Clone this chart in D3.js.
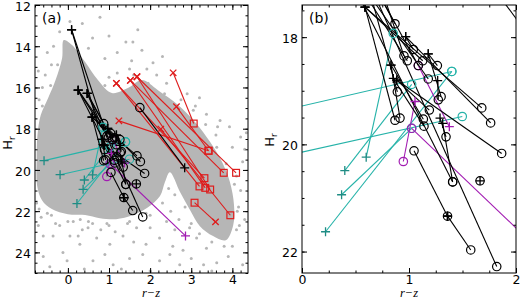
<!DOCTYPE html>
<html><head><meta charset="utf-8">
<script src="https://cdn.jsdelivr.net/npm/d3@7"></script>
<style>body{margin:0;background:#fff}svg{display:block}</style>
</head><body>
<svg id="c" width="520" height="299"></svg>
<script>
// ---- data (r-z, H_r) ----
const cloudOutline = [[-0.10,13.70],[0.10,13.94],[0.42,14.77],[0.73,15.64],[1.07,16.27],[1.46,16.03],[1.80,15.64],[2.19,16.13],[2.68,16.85],[3.09,17.68],[3.46,18.65],[3.75,19.62],[3.94,20.59],[4.04,21.71],[4.02,22.68],[3.84,23.41],[3.53,23.21],[3.21,22.73],[2.97,21.95],[2.73,21.08],[2.48,20.11],[2.36,20.59],[2.24,21.27],[1.95,21.81],[1.58,22.19],[1.17,22.39],[0.78,22.34],[0.42,22.19],[0.00,22.15],[-0.39,21.90],[-0.63,21.47],[-0.75,20.74],[-0.76,19.52],[-0.74,18.31],[-0.66,17.34],[-0.48,16.51],[-0.30,15.64],[-0.14,14.57]];
const cloudDots = [[0.78,12.6],[0.35,12.9],[1.41,13.8],[1.58,13.8],[1.0,13.5],[0.6,13.6],[1.2,14.3],[0.9,14.6],[1.55,14.7],[2.07,14.8],[1.92,15.1],[2.16,15.4],[1.8,14.2],[0.5,14.1],[-0.4,14.9],[-0.55,15.4],[-0.62,16.0],[-0.7,16.6],[-0.62,16.9],[1.2,15.3],[1.5,15.1],[1.0,15.5],[2.4,15.8],[2.3,14.5],[1.7,13.2],[-0.2,13.3],[-0.5,14.3],[-0.72,15.2],[-0.35,14.0],[0.05,12.8],[-0.42,15.9],[-0.25,14.9],
[3.64,17.9],[3.93,17.9],[4.2,18.4],[3.37,17.3],[4.34,18.2],[3.1,16.9],[2.9,16.3],[3.6,18.3],[4.0,18.9],[4.25,19.6],[4.1,20.3],[4.2,21.0],[4.15,21.8],[4.3,22.4],[4.1,22.9],[3.7,17.6],[4.3,19.0],[3.2,16.5],
[-0.6,23.2],[-0.36,23.2],[0.05,23.2],[-0.12,24.0],[-0.44,24.7],[-0.02,24.4],[0.29,23.6],[0.49,22.8],[0.7,23.3],[1.02,23.6],[1.34,23.2],[1.67,22.8],[1.1,24.6],[1.5,24.3],[0.61,24.4],[1.82,24.1],[0.13,22.5],[0.95,22.6],[2.0,22.8],[2.23,23.3],[2.55,23.7],[3.13,23.3],[3.37,23.8],[3.76,23.2],[4.0,23.7],[3.62,24.5],[2.72,24.6],[2.23,24.4],[4.17,22.7],[2.96,22.8],[2.48,24.1],[4.25,24.6],[-0.65,22.3],[-0.3,22.6],[0.35,22.9],[1.45,22.6],[1.9,23.6],[2.8,23.9],[3.0,24.3],[0.9,24.1],[-0.6,24.2],[0.4,24.8],[1.3,24.8],[2.0,24.9],[3.5,24.9],[3.9,24.2],[1.6,23.5],[2.6,22.9],[0.25,23.2],[-0.2,22.7],[3.3,24.6],[1.15,23.0],[0.6,22.6],
[2.1,21.0],[2.3,21.6],[2.5,22.0],[2.0,22.2],[2.6,21.2],[2.45,20.9],[2.7,22.4],[2.4,22.5],
[-0.76,21.6],[-0.5,22.1],[-0.72,22.7],
[0.9,15.9],[1.25,16.4],[1.55,16.2],[1.6,15.4],[1.95,15.8],[2.35,16.3],[2.75,16.6],[3.05,17.1],[3.35,17.8],[3.62,18.9],[3.85,19.7],[4.05,20.7],[4.12,22.0],
[0.0,22.5],[0.5,22.5],[1.0,22.7],[1.5,22.5],[1.9,22.1],[-0.4,22.2],[0.3,22.4],[0.8,22.9],[-0.7,21.9],[3.5,23.5],[3.8,23.7],[3.2,23.1],[3.0,22.6],[2.85,21.8]];

// segments: [x_plus, y_plus, x_circle, y_circle]
const blackSeg = [[0.09,13.2,0.891,19.02],[0.09,13.2,0.953,18.35],[0.25,16.13,1.408,20.70],[0.25,16.13,0.984,18.44],[0.25,16.13,1.18,18.78],[0.47,16.29,1.82,22.28],[0.47,16.29,0.869,17.75],[0.47,16.29,1.087,18.53],[0.589,17.44,1.68,19.32],[0.589,17.44,0.869,19.55],[0.589,17.44,1.128,18.44],[0.969,17.99,1.763,19.60],[0.969,17.99,1.04,18.23],[1.18,18.31,1.265,18.53],[1.18,18.31,1.30,19.11],[0.832,18.52,1.134,19.53],[0.832,18.52,0.916,19.51],[0.853,18.77,1.14,19.66],[0.885,18.80,1.866,20.17],[0.885,18.80,1.19,19.36],[1.268,18.81,1.274,19.17],[1.29,19.51,1.346,19.86],[1.315,19.61,1.408,20.70],[1.664,20.68,1.664,20.68],[1.36,21.34,1.36,21.34],[1.36,21.34,1.047,20.12],[1.36,21.34,1.577,21.97],[2.84,19.9,1.75,16.98]];
const cyanSeg = [[-0.58,19.55,1.40,18.64],[-0.19,20.23,1.498,19.48],[0.60,20.24,0.853,17.93],[0.40,20.49,1.025,18.88],[0.37,20.94,1.025,19.70],[0.22,21.63,1.40,18.64]];
const magentaSeg = [[2.86,23.2,1.025,19.70],[1.056,19.20,0.947,20.32],[1.377,19.67,1.087,18.53]];
// red: [x_cross, y_cross, x_square, y_square]
const redSeg = [[1.18,15.8,3.32,20.4],[1.18,15.8,3.20,20.8],[1.52,15.66,3.79,20.14],[1.52,15.66,3.34,20.87],[1.68,15.48,4.09,20.14],[1.68,15.48,3.46,20.95],[1.24,17.62,3.42,19.07],[2.56,15.29,3.06,17.75],[2.64,16.93,3.42,19.07],[2.26,18.02,3.95,22.2],[3.59,22.52,3.08,21.59]];

const ticksAx = [0,1,2,3,4], ticksAy = [12,14,16,18,20,22,24];
const ticksBx = [0,1,2], ticksBy = [18,20,22];

const COL = {black:"#000000", cyan:"#26b3a9", cyanM:"#1f8c84", mag:"#a21cb2", red:"#de1c1c", gray:"#b6b6b6"};

const svg = d3.select("#c");
const defs = svg.append("defs");

function panel(id, xs, ys, opts){
  const [X0,X1] = xs.range(), [Y0,Y1] = ys.range();
  defs.append("clipPath").attr("id","clip"+id).append("rect")
    .attr("x",X0).attr("y",Y0).attr("width",X1-X0).attr("height",Y1-Y0);
  const g = svg.append("g").attr("clip-path",`url(#clip${id})`);
  if(opts.cloud){
    g.append("path").datum(cloudOutline)
      .attr("d", d3.line().x(d=>xs(d[0])).y(d=>ys(d[1])).curve(d3.curveCatmullRomClosed.alpha(0.5)))
      .attr("fill",COL.gray);
    g.selectAll("circle.dot").data(cloudDots).join("circle").attr("class","dot")
      .attr("cx",d=>xs(d[0])).attr("cy",d=>ys(d[1])).attr("r",1.5).attr("fill",COL.gray);
  }
  function lines(data,col){
    g.append("g").selectAll("line").data(data).join("line")
      .attr("x1",d=>xs(d[0])).attr("y1",d=>ys(d[1])).attr("x2",d=>xs(d[2])).attr("y2",d=>ys(d[3]))
      .attr("stroke",col).attr("stroke-width",1.1);
  }
  if(opts.red) lines(redSeg,COL.red);
  lines(cyanSeg,COL.cyan); lines(magentaSeg,COL.mag); lines(blackSeg,COL.black);
  function plus(data,col){
    const m = g.append("g").attr("stroke",col).attr("stroke-width",1.3);
    data.forEach(d=>{const x=xs(d[0]),y=ys(d[1]),s=4.5;
      m.append("path").attr("d",`M${x-s},${y}H${x+s}M${x},${y-s}V${y+s}`);});
  }
  function circ(data,col){
    g.append("g").selectAll("circle").data(data).join("circle")
      .attr("cx",d=>xs(d[2])).attr("cy",d=>ys(d[3])).attr("r",4.2)
      .attr("fill","none").attr("stroke",col).attr("stroke-width",1.2);
  }
  function cross(data,col){
    const m = g.append("g").attr("stroke",col).attr("stroke-width",1.3);
    data.forEach(d=>{const x=xs(d[0]),y=ys(d[1]),s=3.2;
      m.append("path").attr("d",`M${x-s},${y-s}L${x+s},${y+s}M${x-s},${y+s}L${x+s},${y-s}`);});
  }
  function square(data,col){
    g.append("g").selectAll("rect").data(data).join("rect")
      .attr("x",d=>xs(d[2])-3.4).attr("y",d=>ys(d[3])-3.4).attr("width",6.8).attr("height",6.8)
      .attr("fill","none").attr("stroke",col).attr("stroke-width",1.2);
  }
  if(opts.red){ cross(redSeg,COL.red); square(redSeg,COL.red); }
  plus(cyanSeg,COL.cyanM); circ(cyanSeg,COL.cyan);
  plus(magentaSeg,COL.mag); circ(magentaSeg,COL.mag);
  plus(blackSeg,COL.black); circ(blackSeg,COL.black);

  // axes
  const fmt = d3.format("d");
  const ax = svg.append("g");
  function styl(sel){sel.select(".domain").remove(); sel.selectAll("text").attr("font-size",12.5).attr("font-family","DejaVu Sans").attr("fill","#000"); sel.selectAll("line").attr("stroke","#000");}
  const maj=5, mn=2.5;
  ax.append("g").attr("transform",`translate(0,${Y1})`).call(d3.axisBottom(xs).tickValues(opts.xt).tickSize(-maj).tickPadding(2).tickFormat(fmt)).call(styl);
  ax.append("g").attr("transform",`translate(0,${Y1})`).call(d3.axisBottom(xs).tickValues(opts.xm).tickSize(-mn).tickFormat("")).call(styl);
  ax.append("g").attr("transform",`translate(0,${Y0})`).call(d3.axisTop(xs).tickValues(opts.xt).tickSize(-maj).tickFormat("")).call(styl);
  ax.append("g").attr("transform",`translate(0,${Y0})`).call(d3.axisTop(xs).tickValues(opts.xm).tickSize(-mn).tickFormat("")).call(styl);
  const yax = ax.append("g").attr("transform",`translate(${X0},0)`).call(d3.axisLeft(ys).tickValues(opts.yt).tickSize(-maj).tickPadding(4).tickFormat(fmt)).call(styl);
  yax.selectAll("text").attr("dy","0.42em");
  ax.append("g").attr("transform",`translate(${X0},0)`).call(d3.axisLeft(ys).tickValues(opts.ym).tickSize(-mn).tickFormat("")).call(styl);
  ax.append("g").attr("transform",`translate(${X1},0)`).call(d3.axisRight(ys).tickValues(opts.yt).tickSize(-maj).tickFormat("")).call(styl);
  ax.append("g").attr("transform",`translate(${X1},0)`).call(d3.axisRight(ys).tickValues(opts.ym).tickSize(-mn).tickFormat("")).call(styl);
  svg.append("rect").attr("x",X0).attr("y",Y0).attr("width",X1-X0).attr("height",Y1-Y0)
    .attr("fill","none").attr("stroke","#000").attr("stroke-width",1);
  svg.append("text").attr("x",X0+7).attr("y",Y0+18).attr("font-family","DejaVu Sans").attr("font-size",14).text(opts.tag);
  const yl = svg.append("text").attr("transform",`translate(${opts.ylx},${opts.yly}) rotate(-90)`)
    .attr("text-anchor","middle").attr("font-family","DejaVu Sans").attr("font-size",13);
  yl.append("tspan").text("H");
  yl.append("tspan").attr("font-size",9).attr("dy",3).text("r");
  svg.append("text").attr("x",opts.xlx).attr("y",296.5).attr("text-anchor","middle")
    .attr("font-family","Liberation Serif").attr("font-style","italic").attr("font-size",12.5).text("r\u2212z");
}

function range(a,b,s){const r=[];for(let v=a;v<=b+1e-9;v+=s)r.push(+v.toFixed(3));return r;}

const xa = d3.scaleLinear([-0.8,4.38],[35,248]);
const ya = d3.scaleLinear([12,25],[5,273]);
const xb = d3.scaleLinear([0,2],[302,516]);
const yb = d3.scaleLinear([17.4,22.4],[5,273]);

panel("a", xa, ya, {cloud:true, red:true, xt:ticksAx, yt:ticksAy, xm:range(-0.8,4.38,0.2), ym:range(12,25,0.5), tag:"(a)", ylx:12, yly:143, xlx:151});
panel("b", xb, yb, {cloud:false, red:false, xt:ticksBx, yt:ticksBy, xm:range(0,2,0.25), ym:range(17.5,22.4,0.5), tag:"(b)", ylx:274, yly:140, xlx:409});
</script>
</body></html>
